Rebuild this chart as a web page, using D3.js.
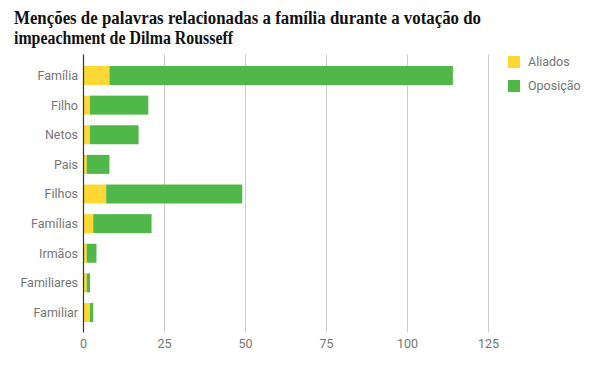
<!DOCTYPE html>
<html>
<head>
<meta charset="utf-8">
<script src="https://cdn.jsdelivr.net/npm/d3@7"></script>
<style>
  body { margin: 0; background: #fff; }
  svg text { font-family: Roboto, "Noto Sans", sans-serif; }
</style>
</head>
<body>
<svg id="chart" width="600" height="371"></svg>
<script>
// dados
const categorias = ["Família", "Filho", "Netos", "Pais", "Filhos", "Famílias", "Irmãos", "Familiares", "Familiar"];
const aliados   = [8, 2, 2, 1, 7, 3, 1, 1, 2];
const oposicao  = [106, 18, 15, 7, 42, 18, 3, 1, 1];
const series = ["Aliados", "Oposição"];
const ticks = [0, 25, 50, 75, 100, 125];

const cores = {"Aliados": "#fdd835", "Oposição": "#4fb848"};

const svg = d3.select("svg#chart");

// titulo
const title = svg.append("text")
    .style("font-family", "'Liberation Serif', 'DejaVu Serif', serif")
    .style("font-weight", "bold")
    .style("font-size", "18px")
    .attr("fill", "#111");
title.append("tspan").attr("x", 14).attr("y", 24)
    .attr("textLength", 467).attr("lengthAdjust", "spacingAndGlyphs")
    .text("Menções de palavras relacionadas a família durante a votação do");
title.append("tspan").attr("x", 14).attr("y", 44)
    .attr("textLength", 219).attr("lengthAdjust", "spacingAndGlyphs")
    .text("impeachment de Dilma Rousseff");

const chartLeft = 83.5, chartTop = 60.7, chartBottom = 327.3;

const x = d3.scaleLinear().domain([0, 125]).range([chartLeft, chartLeft + 125 * 3.24]);
const y = d3.scaleBand().domain(categorias).range([chartTop, chartBottom])
    .paddingInner(0.36).paddingOuter(0.18);

// grade
svg.append("g").selectAll("line")
  .data(ticks.filter(t => t > 0))
  .enter().append("line")
    .attr("x1", d => x(d)).attr("x2", d => x(d))
    .attr("y1", 54.5).attr("y2", 332.5)
    .attr("stroke", "#cccccc")
    .attr("stroke-width", 1);

// barras
const linhas = categorias.map((c, i) => ({cat: c, Aliados: aliados[i], "Oposição": oposicao[i]}));
const stack = d3.stack().keys(series)(linhas);

svg.append("g").selectAll("g")
  .data(stack)
  .enter().append("g")
    .attr("fill", d => cores[d.key])
  .selectAll("rect")
  .data(d => d)
  .enter().append("rect")
    .attr("x", d => x(d[0]))
    .attr("y", d => y(d.data.cat))
    .attr("width", d => x(d[1]) - x(d[0]))
    .attr("height", y.bandwidth());

// eixo base
svg.append("line")
    .attr("x1", x(0)).attr("x2", x(0))
    .attr("y1", 54.5).attr("y2", 332.5)
    .attr("stroke", "#333")
    .attr("stroke-width", 1.2);

// rotulos y
svg.append("g").selectAll("text")
  .data(categorias)
  .enter().append("text")
    .attr("x", 78)
    .attr("y", d => y(d) + y.bandwidth() / 2)
    .attr("dy", "0.35em")
    .attr("text-anchor", "end")
    .attr("fill", "#757575")
    .style("font-size", "12.5px")
    .text(d => d);

// rotulos x
svg.append("g").selectAll("text")
  .data(ticks)
  .enter().append("text")
    .attr("x", d => x(d))
    .attr("y", 344)
    .attr("dy", "0.35em")
    .attr("text-anchor", "middle")
    .attr("fill", "#757575")
    .style("font-size", "12.5px")
    .text(d => d);

// legenda
const leg = svg.append("g").selectAll("g")
  .data(series)
  .enter().append("g")
    .attr("transform", (d, i) => "translate(508," + (56 + i * 24) + ")");
leg.append("rect")
    .attr("width", 12).attr("height", 12)
    .attr("fill", d => cores[d]);
leg.append("text")
    .attr("x", 20).attr("y", 6)
    .attr("dy", "0.35em")
    .attr("fill", "#757575")
    .style("font-size", "12.5px")
    .text(d => d);
</script>
</body>
</html>
